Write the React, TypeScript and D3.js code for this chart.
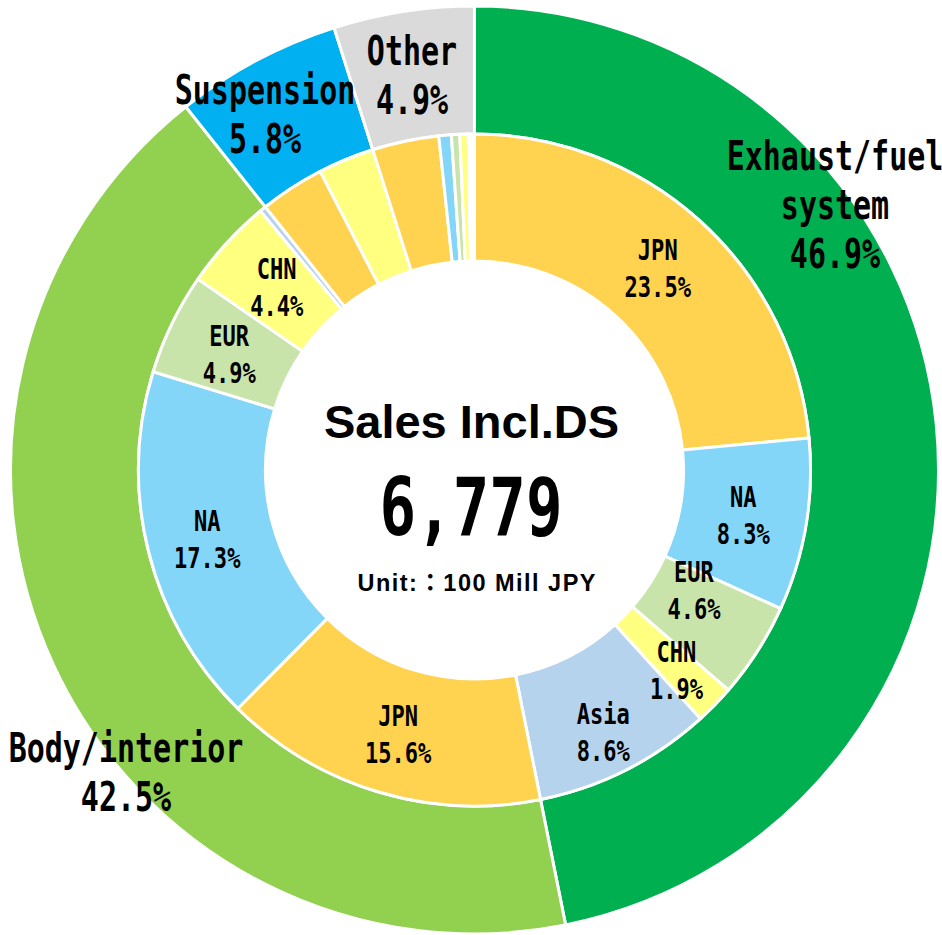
import React from "react";
import * as d3 from "d3";

// ---- Data ----
const categories = ["Exhaust/fuel system", "Body/interior", "Suspension", "Other"];
const categoryShares = [46.9, 42.5, 5.8, 4.9];
const categoryLabelLines = [["Exhaust/fuel", "system"], ["Body/interior"], ["Suspension"], ["Other"]];
const categoryColors = ["#00B050", "#92D050", "#00B0F0", "#DADADA"];

const regions = ["JPN", "NA", "EUR", "CHN", "Asia"];
const regionColors = ["#FFD24F", "#83D6F8", "#C9E4AA", "#FFFF80", "#B5D3EC"];
const exhaustByRegion = [23.5, 8.3, 4.6, 1.9, 8.6];
const bodyByRegion = [15.6, 17.3, 4.9, 4.4, 0.3];
const suspensionByRegion = [3.1, 0, 0, 2.7, 0];
const otherByRegion = [3.2, 0.6, 0.4, 0.4, 0.3];
const regionSharesByCategory = [exhaustByRegion, bodyByRegion, suspensionByRegion, otherByRegion];

const centerTitle = "Sales Incl.DS";
const centerTotal = "6,779";
const centerUnit = "Unit:\uFF1A100 Mill JPY";

// ---- Layout ----
const W = 942;
const H = 935;
const CX = 474.5;
const CY = 470;
const R_OUT = 464;
const R_MID = 336;
const R_IN = 209;
const MONO = "'DejaVu Sans Mono', monospace";
const SANS = "'Liberation Sans', Arial, 'Noto Sans CJK JP', sans-serif";
// outer label anchors (absolute x, first baseline y)
const outerLabelAnchors = [
  { x: 835, y: 170 },
  { x: 126, y: 762 },
  { x: 265, y: 104 },
  { x: 412, y: 65 },
];
// nudges for inner labels keyed by "catIndex-regionIndex"
const innerNudges: Record<string, [number, number]> = {
  "0-2": [-10, -27],
  "0-3": [7, 10],
  "0-4": [6, 19],
  "1-0": [2, 3],
  "1-1": [-3, 3],
  "1-2": [0, 3],
  "1-3": [3, 1],
};

type Slice = { cat: number; reg: number; value: number };

function MonoText({ x, y, text, size, sx, fill = "#000" }: any) {
  return (
    <text
      transform={`translate(${x},${y}) scale(${sx},1)`}
      textAnchor="middle"
      fontFamily={MONO}
      fontWeight="bold"
      fontSize={size}
      fill={fill}
    >
      {text}
    </text>
  );
}

export default function App() {
  const outerData = categories.map((c, i) => ({ cat: i, value: categoryShares[i] }));
  const innerData: Slice[] = [];
  regionSharesByCategory.forEach((arr, ci) =>
    arr.forEach((v, ri) => {
      if (v > 0) innerData.push({ cat: ci, reg: ri, value: v });
    })
  );

  const pie = d3.pie<any>().sort(null).value((d: any) => d.value);
  const outerArcs = pie(outerData);
  const innerArcs = pie(innerData);

  const outerArc = d3.arc<any>().innerRadius(R_MID).outerRadius(R_OUT);
  const innerArc = d3.arc<any>().innerRadius(R_IN).outerRadius(R_MID);

  return (
    <svg
      width={W}
      height={H}
      style={{ position: "absolute", left: 0, top: 0, background: "#fff" }}
    >
      <g transform={`translate(${CX},${CY})`}>
        {outerArcs.map((a, i) => (
          <path
            key={"o" + i}
            d={outerArc(a) as string}
            fill={categoryColors[a.data.cat]}
            stroke="#fff"
            strokeWidth={3}
          />
        ))}
        {innerArcs.map((a, i) => {
          const d = a.data as Slice;
          const isBlank = d.cat === 3 && d.reg === 4;
          return (
            <path
              key={"i" + i}
              d={innerArc(a) as string}
              fill={isBlank ? "#fff" : regionColors[d.reg]}
              stroke="#fff"
              strokeWidth={3}
            />
          );
        })}
      </g>
      {innerArcs.map((a, i) => {
        const d = a.data as Slice;
        if (d.cat > 1 || d.value < 1) return null;
        const [px, py] = innerArc.centroid(a);
        const nd = innerNudges[`${d.cat}-${d.reg}`] || [0, 0];
        const x = CX + px + nd[0];
        const y = CY + py + nd[1];
        return (
          <g key={"l" + i}>
            <MonoText x={x} y={y - 8} text={regions[d.reg]} size={29} sx={0.76} />
            <MonoText x={x} y={y + 29} text={`${d.value.toFixed(1)}%`} size={29} sx={0.76} />
          </g>
        );
      })}
      {outerArcs.map((a, i) => {
        const anchor = outerLabelAnchors[a.data.cat];
        const lines = [...categoryLabelLines[a.data.cat], `${categoryShares[a.data.cat].toFixed(1)}%`];
        return (
          <g key={"ol" + i}>
            {lines.map((t, k) => (
              <MonoText key={k} x={anchor.x} y={anchor.y + k * 49} text={t} size={40} sx={0.75} />
            ))}
          </g>
        );
      })}
      <text x={471.5} y={438} textAnchor="middle" fontFamily={SANS} fontWeight="bold" fontSize={47} fill="#000">
        {centerTitle}
      </text>
      <MonoText x={471} y={535} text={centerTotal} size={80} sx={0.76} />
      <text
        x={476.5}
        y={591}
        textAnchor="middle"
        fontFamily={SANS}
        fontWeight="bold"
        fontSize={23.5}
        textLength={238}
        lengthAdjust="spacing"
        fill="#000"
      >
        {centerUnit}
      </text>
    </svg>
  );
}
